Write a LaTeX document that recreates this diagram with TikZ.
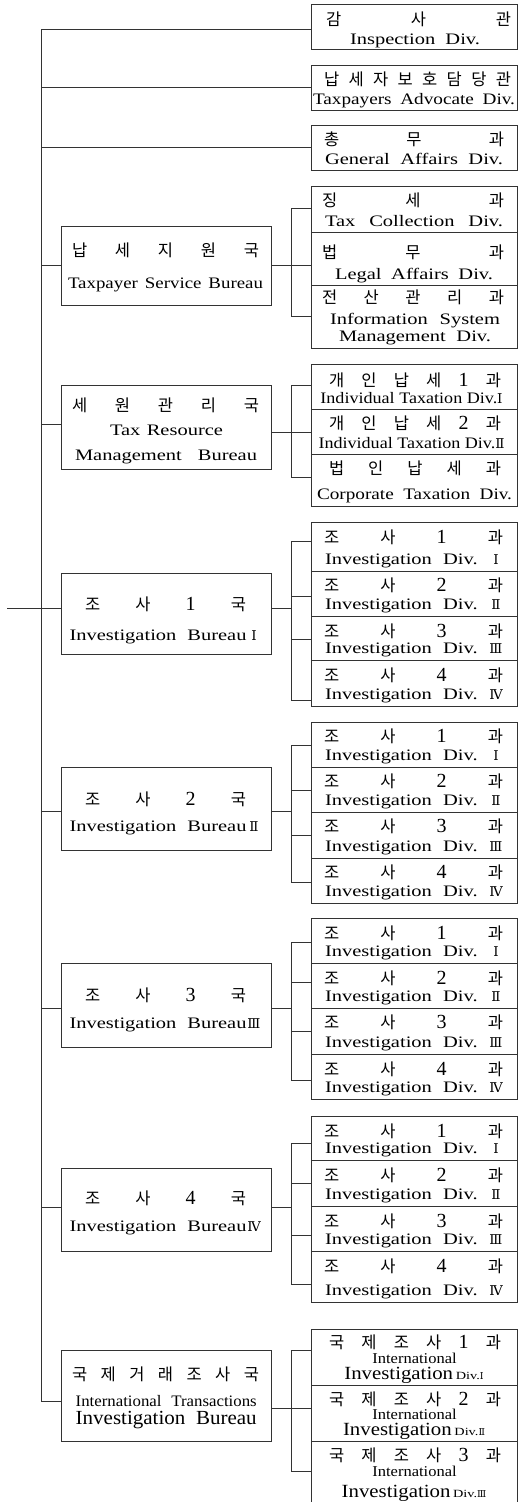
\documentclass[tikz,border=0pt]{standalone}
\usepackage{fontspec}
\setmainfont{Liberation Serif}
\newfontfamily\krf{Noto Sans CJK KR}
\newfontfamily\rnf{DejaVu Serif}
\usetikzlibrary{calc}
\colorlet{lc}{black!80}
\newcommand\wx[2][1.28]{\scalebox{#1}[1]{#2}}
\newcommand\rnum[1]{{\rnf\fontsize{13.5}{13.5}\selectfont #1}}
\newcommand\rnums[1]{{\rnf\fontsize{9.5}{9.5}\selectfont #1}}
\newcommand\dg[1]{{\normalfont\fontsize{20}{20}\selectfont #1}}
\newcommand\rbx[3]{\node[rb, minimum height={(#3)-(#2)}] (#1) at (414,{((#2)+(#3))/2}) {};}
\newcommand\bbx[3]{\node[bb, minimum height={(#3)-(#2)}] (#1) at (166.35,{((#2)+(#3))/2}) {};}
\newcommand\kln[5]{\node[kt] (#1) at (#2,{#3}) {\makebox[#4pt]{#5}};}
\newcommand\eln[4]{\node[et] (#1) at (#2,{#3}) {#4};}
% investigation sub-box: name, top, bottom, digit, numeral
\newcommand\isb[5]{%
  \rbx{#1}{#2}{#3}
  \kln{#1k}{413.5}{(#2)+14.5}{179}{조\hfill 사\hfill\dg{#4}\hfill 과}
  \eln{#1e}{414}{(#3)-7}{\makebox[178pt]{\wx{Investigation}\hfill\wx{Div.}\hfill\makebox[14pt]{\rnum{#5}}}}%
}
% investigation bureau: name, top, bottom, digit, numeral, korean y, english baseline
\newcommand\ibu[7]{%
  \bbx{#1}{#2}{#3}
  \kln{#1k}{165.5}{#6}{161}{조\hfill 사\hfill\dg{#4}\hfill 국}
  \eln{#1e}{165.5}{#7}{\makebox[192pt]{\wx{Investigation}\hfill\wx{Bureau}\makebox[15pt]{\rnum{#5}}}}%
}
\tikzset{
  rb/.style={draw=lc, line width=0.9pt, inner sep=0pt, minimum width=206pt},
  bb/.style={draw=lc, line width=0.9pt, inner sep=0pt, minimum width=209.3pt},
  kt/.style={inner sep=0pt, font=\krf\fontsize{16.5}{16.5}\selectfont},
  et/.style={inner sep=0pt, anchor=base, font=\fontsize{16}{16}\selectfont},
  ln/.style={draw=lc, line width=0.9pt},
}
\begin{document}
\begin{tikzpicture}[x=1pt,y=-1pt]
\useasboundingbox (0,0) rectangle (518,1502);
% ---------- top boxes
\rbx{t1}{4.7}{49.7}
\kln{t1k}{418.5}{19.2}{185}{감\hfill 사\hfill 관}
\eln{t1e}{415}{44}{\makebox[130pt]{\wx{Inspection}\hfill\wx{Div.}}}
\rbx{t2}{65.7}{110}
\kln{t2k}{417.5}{79.2}{187}{납\hfill 세\hfill 자\hfill 보\hfill 호\hfill 담\hfill 당\hfill 관}
\eln{t2e}{414}{104}{\makebox[202pt]{\wx[1.2]{Taxpayers}\hfill\wx[1.2]{Advocate}\hfill\wx[1.2]{Div.}}}
\rbx{t3}{125.7}{170.3}
\kln{t3k}{414}{139.2}{180}{총\hfill 무\hfill 과}
\eln{t3e}{414}{164.3}{\makebox[178pt]{\wx{General}\hfill\wx{Affairs}\hfill\wx{Div.}}}
% ---------- bureau 1
\bbx{b1}{226.7}{305.7}
\kln{b1k}{165.5}{250.8}{187}{납\hfill 세\hfill 지\hfill 원\hfill 국}
\eln{b1e}{165.5}{288.3}{\makebox[195pt]{\wx[1.18]{Taxpayer}\hfill\wx[1.18]{Service}\hfill\wx[1.18]{Bureau}}}
\rbx{s11}{186}{232.3}
\kln{s11k}{413}{200.8}{182}{징\hfill 세\hfill 과}
\eln{s11e}{414}{226}{\makebox[178pt]{\wx{Tax}\hfill\wx{Collection}\hfill\wx{Div.}}}
\rbx{s12}{232.3}{285}
\kln{s12k}{413}{252.5}{182}{법\hfill 무\hfill 과}
\eln{s12e}{414}{279}{\makebox[158pt]{\wx{Legal}\hfill\wx{Affairs}\hfill\wx{Div.}}}
\rbx{s13}{285}{348.7}
\kln{s13k}{413}{297.5}{182}{전\hfill 산\hfill 관\hfill 리\hfill 과}
\eln{s13e}{415}{324}{\makebox[170pt]{\wx{Information}\hfill\wx{System}}}
\eln{s13f}{415}{341.7}{\makebox[152pt]{\wx{Management}\hfill\wx{Div.}}}
% ---------- bureau 2
\bbx{b2}{385.7}{469.3}
\kln{b2k}{165.5}{405.8}{187}{세\hfill 원\hfill 관\hfill 리\hfill 국}
\eln{b2e}{166.5}{435}{\makebox[113pt]{\wx{Tax}\hfill\wx{Resource}}}
\eln{b2f}{166}{460}{\makebox[182pt]{\wx{Management}\hfill\wx{Bureau}}}
\rbx{s21}{364.7}{409.3}
\kln{s21k}{415}{380}{172}{개\hfill 인\hfill 납\hfill 세\hfill\dg{1}\hfill 과}
\eln{s21e}{411.5}{403.3}{\wx[1.13]{Individual Taxation Div.}\rnum{Ⅰ}}
\rbx{s22}{409.3}{454}
\kln{s22k}{415}{423.3}{172}{개\hfill 인\hfill 납\hfill 세\hfill\dg{2}\hfill 과}
\eln{s22e}{411.5}{448.3}{\wx[1.13]{Individual Taxation Div.}\rnum{Ⅱ}}
\rbx{s23}{454}{506.7}
\kln{s23k}{415}{468.3}{172}{법\hfill 인\hfill 납\hfill 세\hfill 과}
\eln{s23e}{414.5}{499.3}{\makebox[195pt]{\wx[1.2]{Corporate}\hfill\wx[1.2]{Taxation}\hfill\wx[1.2]{Div.}}}
% ---------- investigation bureaus
\ibu{b3}{573.3}{654}{1}{Ⅰ}{604.5}{640}
\isb{s31}{522.7}{571}{1}{Ⅰ}
\isb{s32}{571}{616.7}{2}{Ⅱ}
\isb{s33}{616.7}{660.7}{3}{Ⅲ}
\isb{s34}{660.7}{706.7}{4}{Ⅳ}
\ibu{b4}{767}{850.7}{2}{Ⅱ}{799.3}{831.7}
\isb{s41}{722.3}{767}{1}{Ⅰ}
\isb{s42}{767}{812.3}{2}{Ⅱ}
\isb{s43}{812.3}{858}{3}{Ⅲ}
\isb{s44}{858}{903}{4}{Ⅳ}
\ibu{b5}{963.7}{1047}{3}{Ⅲ}{995}{1028.3}
\isb{s51}{918.7}{963.7}{1}{Ⅰ}
\isb{s52}{963.7}{1008.3}{2}{Ⅱ}
\isb{s53}{1008.3}{1054.7}{3}{Ⅲ}
\isb{s54}{1054.7}{1099.3}{4}{Ⅳ}
\ibu{b6}{1168.3}{1251.7}{4}{Ⅳ}{1198.3}{1231.7}
\isb{s61}{1116.7}{1160.7}{1}{Ⅰ}
\isb{s62}{1160.7}{1206.7}{2}{Ⅱ}
\isb{s63}{1206.7}{1251.7}{3}{Ⅲ}
\isb{s64}{1251.7}{1302.7}{4}{Ⅳ}
% ---------- bureau 7
\bbx{b7}{1350.7}{1441}
\kln{b7k}{165.5}{1374.2}{187}{국\hfill 제\hfill 거\hfill 래\hfill 조\hfill 사\hfill 국}
\eln{b7e}{166.2}{1406.2}{\fontsize{16}{16}\selectfont\makebox[181pt]{\wx[1.05]{International}\hfill\wx[1.05]{Transactions}}}
\eln{b7f}{166.2}{1424.3}{\fontsize{20}{20}\selectfont\makebox[181pt]{\wx[1.05]{Investigation}\hfill\wx[1.05]{Bureau}}}
\rbx{i1}{1329}{1385}
\rbx{i2}{1385}{1441}
\rbx{i3}{1441}{1503}
\kln{i1k}{415}{1342.5}{172}{국\hfill 제\hfill 조\hfill 사\hfill\dg{1}\hfill 과}
\kln{i2k}{415}{1399.2}{172}{국\hfill 제\hfill 조\hfill 사\hfill\dg{2}\hfill 과}
\kln{i3k}{415}{1455.2}{172}{국\hfill 제\hfill 조\hfill 사\hfill\dg{3}\hfill 과}
\eln{i1e}{414.5}{1363.3}{\fontsize{15}{15}\selectfont\wx[1.1]{International}}
\eln{i2e}{414.5}{1419.2}{\fontsize{15}{15}\selectfont\wx[1.1]{International}}
\eln{i3e}{414.5}{1476}{\fontsize{15}{15}\selectfont\wx[1.1]{International}}
\eln{i1f}{414}{1379.6}{{\fontsize{18.6}{19}\selectfont\wx[1.12]{Investigation}}\,{\fontsize{11}{11}\selectfont\wx[1.3]{Div.}\rnums{Ⅰ}}}
\eln{i2f}{414}{1435.5}{{\fontsize{18.6}{19}\selectfont\wx[1.12]{Investigation}}\,{\fontsize{11}{11}\selectfont\wx[1.3]{Div.}\rnums{Ⅱ}}}
\eln{i3f}{414}{1497.3}{{\fontsize{18.6}{19}\selectfont\wx[1.12]{Investigation}}\,{\fontsize{11}{11}\selectfont\wx[1.3]{Div.}\rnums{Ⅲ}}}
% ---------- trunk
\coordinate (c0) at (41.7,29.3);
\coordinate (c1) at (41.7,87.3);
\coordinate (c2) at (41.7,147.7);
\coordinate (c3) at (41.7,265.7);
\coordinate (c4) at (41.7,424.3);
\coordinate (c5) at (41.7,608.3);
\coordinate (c6) at (41.7,811.7);
\coordinate (c7) at (41.7,1008);
\coordinate (c8) at (41.7,1207);
\coordinate (c9) at (41.7,1401);
\coordinate (st) at (7,608.3);
\draw[ln] (c0 -| t1.west) -- (c0) -- (c9) -- (c9 -| b7.west);
\draw[ln] (c1) -- (c1 -| t2.west);
\draw[ln] (c2) -- (c2 -| t3.west);
\draw[ln] (c3) -- (c3 -| b1.west);
\draw[ln] (c4) -- (c4 -| b2.west);
\draw[ln] (st) -- (c5) -- (c5 -| b3.west);
\draw[ln] (c6) -- (c6 -| b4.west);
\draw[ln] (c7) -- (c7 -| b5.west);
\draw[ln] (c8) -- (c8 -| b6.west);
% ---------- group 1
\coordinate (g1t) at (291,208.3);
\coordinate (g1b) at (291,316.7);
\coordinate (g1m) at (291,265.7);
\draw[ln] (g1t -| s11.west) -- (g1t) -- (g1b) -- (g1b -| s13.west);
\draw[ln] (g1m -| b1.east) -- (g1m -| s12.west);
% ---------- group 2
\coordinate (g2t) at (291,385.7);
\coordinate (g2b) at (291,477.3);
\coordinate (g2m) at (291,432.3);
\draw[ln] (g2t -| s21.west) -- (g2t) -- (g2b) -- (g2b -| s23.west);
\draw[ln] (g2m -| b2.east) -- (g2m -| s22.west);
% ---------- group 3
\coordinate (g3a) at (291,541);
\coordinate (g3b) at (291,596);
\coordinate (g3c) at (291,639);
\coordinate (g3d) at (291,700);
\coordinate (g3m) at (291,608.3);
\draw[ln] (g3a -| s31.west) -- (g3a) -- (g3d) -- (g3d -| s34.west);
\draw[ln] (g3b) -- (g3b -| s32.west);
\draw[ln] (g3c) -- (g3c -| s33.west);
\draw[ln] (g3m -| b3.east) -- (g3m);
% ---------- group 4
\coordinate (g4a) at (291,745);
\coordinate (g4b) at (291,790.7);
\coordinate (g4c) at (291,835.3);
\coordinate (g4d) at (291,882.3);
\coordinate (g4m) at (291,811.7);
\draw[ln] (g4a -| s41.west) -- (g4a) -- (g4d) -- (g4d -| s44.west);
\draw[ln] (g4b) -- (g4b -| s42.west);
\draw[ln] (g4c) -- (g4c -| s43.west);
\draw[ln] (g4m -| b4.east) -- (g4m);
% ---------- group 5
\coordinate (g5a) at (291,942.3);
\coordinate (g5b) at (291,982);
\coordinate (g5c) at (291,1031);
\coordinate (g5d) at (291,1080.7);
\coordinate (g5m) at (291,1008);
\draw[ln] (g5a -| s51.west) -- (g5a) -- (g5d) -- (g5d -| s54.west);
\draw[ln] (g5b) -- (g5b -| s52.west);
\draw[ln] (g5c) -- (g5c -| s53.west);
\draw[ln] (g5m -| b5.east) -- (g5m);
% ---------- group 6
\coordinate (g6a) at (291,1143.3);
\coordinate (g6b) at (291,1183.3);
\coordinate (g6c) at (291,1235.7);
\coordinate (g6d) at (291,1284);
\coordinate (g6m) at (291,1207);
\draw[ln] (g6a -| s61.west) -- (g6a) -- (g6d) -- (g6d -| s64.west);
\draw[ln] (g6b) -- (g6b -| s62.west);
\draw[ln] (g6c) -- (g6c -| s63.west);
\draw[ln] (g6m -| b6.east) -- (g6m);
% ---------- group 7
\coordinate (g7t) at (291,1350.7);
\coordinate (g7b) at (291,1471.7);
\coordinate (g7m) at (291,1408.3);
\draw[ln] (g7t -| i1.west) -- (g7t) -- (g7b) -- (g7b -| i3.west);
\draw[ln] (g7m -| b7.east) -- (g7m -| i2.west);
\end{tikzpicture}
\end{document}
